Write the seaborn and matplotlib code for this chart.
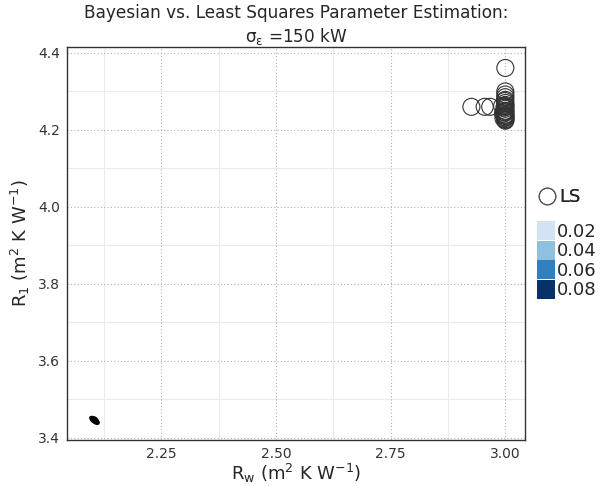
import numpy as np
import pandas as pd
import matplotlib
matplotlib.use("Agg")
import matplotlib.pyplot as plt
import seaborn as sns
from matplotlib.lines import Line2D
from matplotlib.patches import Patch

# Least squares estimates (R_w, R_1)
ls_rw = [3.000, 3.000, 3.000, 3.000, 3.000, 3.000, 3.000, 3.000, 3.000, 3.000,
         3.000, 3.000, 3.000, 3.000, 3.000, 3.000, 3.000, 3.000, 3.000, 3.000,
         2.998, 2.997, 2.995, 2.996, 2.993, 2.926, 2.955, 2.967, 2.999, 3.000]
ls_r1 = [4.361, 4.300, 4.292, 4.285, 4.278, 4.270, 4.265, 4.260, 4.255, 4.250,
         4.245, 4.240, 4.236, 4.232, 4.228, 4.226, 4.224, 4.262, 4.248, 4.238,
         4.258, 4.246, 4.242, 4.230, 4.262, 4.260, 4.260, 4.260, 4.275, 4.233]

# Bayesian posterior samples (R_w, R_1)
bay_rw = [2.098, 2.101, 2.103, 2.105, 2.106, 2.108, 2.111, 2.102, 2.107, 2.104,
          2.099, 2.110, 2.104, 2.106, 2.101, 2.109, 2.100, 2.107]
bay_r1 = [3.451, 3.449, 3.446, 3.445, 3.447, 3.443, 3.441, 3.443, 3.450, 3.451,
          3.446, 3.445, 3.442, 3.440, 3.452, 3.439, 3.448, 3.444]

legend_levels = ["0.02", "0.04", "0.06", "0.08"]
level_colors = ["#d4e3f3", "#8ec0df", "#3080bd", "#08306b"]

x_ticks = [2.25, 2.50, 2.75, 3.00]
y_ticks = [3.4, 3.6, 3.8, 4.0, 4.2, 4.4]

sns.set_style("white")
plt.rcParams['font.family'] = ['DejaVu Sans']
plt.rcParams['mathtext.default'] = 'regular'

fig = plt.figure(figsize=(6.07, 4.86), dpi=100)
ax = fig.add_axes([0.110, 0.095, 0.755, 0.808])

# minor grid
for xm in [2.125, 2.375, 2.625, 2.875]:
    ax.axvline(xm, color="#ebebeb", lw=0.8, zorder=0)
for ym in [3.5, 3.7, 3.9, 4.1, 4.3]:
    ax.axhline(ym, color="#ebebeb", lw=0.8, zorder=0)
# major grid dotted
for xv in x_ticks:
    ax.axvline(xv, color="#b0b0b0", lw=0.8, ls=(0, (1, 2)), zorder=0)
for yv in y_ticks:
    ax.axhline(yv, color="#b0b0b0", lw=0.8, ls=(0, (1, 2)), zorder=0)

bay = pd.DataFrame({"Rw": bay_rw, "R1": bay_r1})
sns.kdeplot(data=bay, x="Rw", y="R1", fill=True, cmap="Blues", levels=5,
            thresh=0.05, bw_adjust=1.0, ax=ax, zorder=2)
sns.kdeplot(data=bay, x="Rw", y="R1", color="black", levels=8, thresh=0.05,
            bw_adjust=1.0, ax=ax, linewidths=1.0, zorder=3)

ls = pd.DataFrame({"Rw": ls_rw, "R1": ls_r1})
sns.scatterplot(data=ls, x="Rw", y="R1", s=150, facecolor="none",
                edgecolor="#333333", linewidth=0.8, ax=ax, zorder=4)

ax.set_xlim(2.044, 3.043)
ax.set_ylim(3.395, 4.415)
ax.set_xticks(x_ticks)
ax.set_xticklabels(["2.25", "2.50", "2.75", "3.00"])
ax.set_yticks(y_ticks)
ax.set_yticklabels(["3.4", "3.6", "3.8", "4.0", "4.2", "4.4"])
ax.tick_params(axis="both", labelsize=10, colors="#4d4d4d", length=3,
               labelcolor="#333333", pad=2)
for sp in ax.spines.values():
    sp.set_color("#333333")
    sp.set_linewidth(1.0)

ax.set_xlabel("R$_w$ (m$^2$ K W$^{-1}$)", fontsize=13, labelpad=1)
ax.set_ylabel("R$_1$ (m$^2$ K W$^{-1}$)", fontsize=13, labelpad=4)
ax.set_title("Bayesian vs. Least Squares Parameter Estimation:\n"
             "$\\sigma_\\epsilon$ =150 kW", fontsize=12.2, pad=4, linespacing=1.2)

h_ls = [Line2D([], [], marker="o", ls="none", markersize=12,
               markerfacecolor="none", markeredgecolor="#555555", markeredgewidth=0.8)]
leg1 = fig.legend(h_ls, ["LS"], loc="upper left", bbox_to_anchor=(0.868, 0.632),
                  frameon=False, fontsize=13, handletextpad=0.1, borderpad=0,
                  handlelength=1.2)
h_lv = [Patch(facecolor=c, edgecolor="none") for c in level_colors]
fig.legend(h_lv, legend_levels, loc="upper left", bbox_to_anchor=(0.870, 0.563),
           frameon=False, fontsize=13, handletextpad=0.1, borderpad=0,
           handlelength=1.0, handleheight=1.22, labelspacing=0)
fig.add_artist(leg1)

fig.savefig("out.png", dpi=100)
